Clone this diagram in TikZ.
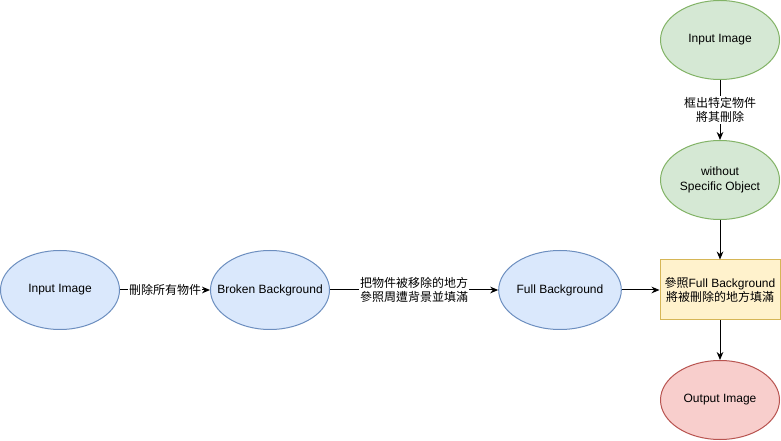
\documentclass[tikz,border=0pt]{standalone}
\usepackage{fontspec}
\setmainfont{Liberation Sans}
\newfontfamily\cjk{Noto Sans CJK TC}
\usetikzlibrary{arrows.meta,shapes.geometric}
\definecolor{bluefill}{HTML}{DAE8FC}
\definecolor{bluedraw}{HTML}{6C8EBF}
\definecolor{greenfill}{HTML}{D5E8D4}
\definecolor{greendraw}{HTML}{82B366}
\definecolor{yellowfill}{HTML}{FFF2CC}
\definecolor{yellowdraw}{HTML}{D6B656}
\definecolor{redfill}{HTML}{F8CECC}
\definecolor{reddraw}{HTML}{B85450}
\tikzset{
  ell/.style={ellipse, draw, line width=0.75pt, minimum width=119*0.75pt, minimum height=79*0.75pt, inner sep=0pt, align=center, font=\fontsize{9}{11}\selectfont},
  blueell/.style={ell, fill=bluefill, draw=bluedraw},
  greenell/.style={ell, fill=greenfill, draw=greendraw},
  redell/.style={ell, fill=redfill, draw=reddraw},
  procbox/.style={rectangle, draw=yellowdraw, fill=yellowfill, line width=0.75pt, minimum width=120*0.75pt, minimum height=60*0.75pt, inner sep=0pt, align=center, font=\fontsize{9}{11}\selectfont},
  conn/.style={draw, line width=0.75pt, -{Stealth[length=6pt,width=5pt]}},
  lbl/.style={fill=white, inner sep=0.5pt, align=center, font=\cjk\fontsize{9}{11}\selectfont}
}
\begin{document}
\begin{tikzpicture}[x=0.75pt,y=-0.75pt]
\useasboundingbox (0,0) rectangle (781,441);
\node[blueell] (in1) at (60,290) {Input Image};
\node[blueell] (bb) at (270,290) {\makebox[0pt]{Broken Background}};
\node[blueell] (fb) at (560,290) {Full Background};
\node[greenell] (in2) at (720,40) {Input Image};
\node[greenell] (wo) at (720,180) {without\\Specific Object};
\node[procbox] (ref) at (720,290) {{\cjk 參照}Full Background\\{\cjk 將被刪除的地方填滿}};
\node[redell] (out) at (720,400) {Output Image};
\draw[conn] (in1) -- node[lbl] {刪除所有物件} (bb);
\draw[conn] (bb) -- node[lbl] {把物件被移除的地方\\參照周遭背景並填滿} (fb);
\draw[conn] (fb) -- (ref);
\draw[conn] (in2) -- node[lbl] {框出特定物件\\將其刪除} (wo);
\draw[conn] (wo) -- (ref);
\draw[conn] (ref) -- (out);
\end{tikzpicture}
\end{document}
